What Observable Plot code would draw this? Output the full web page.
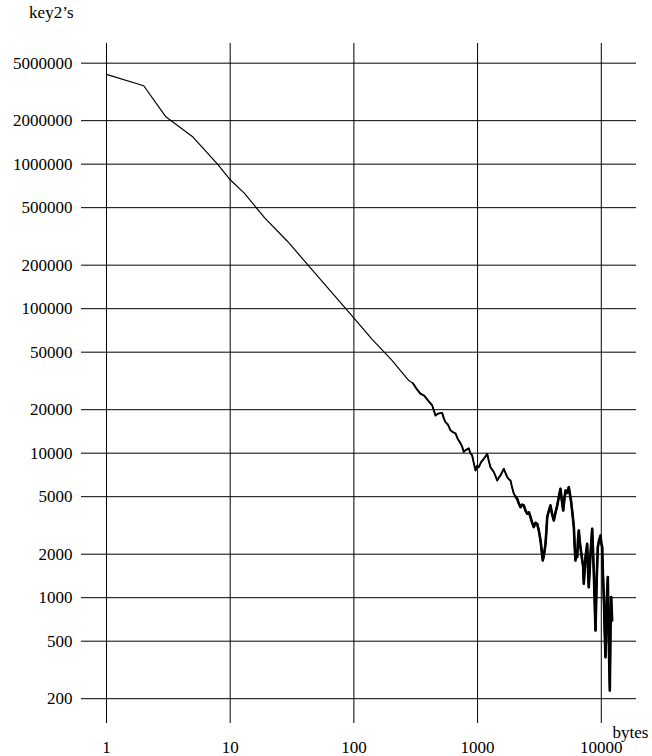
<!DOCTYPE html>
<html>
<head>
<meta charset="utf-8">
<script src="https://cdn.jsdelivr.net/npm/d3@7"></script>
<script src="https://cdn.jsdelivr.net/npm/@observablehq/plot@0.6"></script>
<style>
  html, body { margin: 0; padding: 0; background: white; }
</style>
</head>
<body>
<div id="chart"></div>
<script>
const xTicks = [1, 10, 100, 1000, 10000];
const yTicks = [200, 500, 1000, 2000, 5000, 10000, 20000, 50000, 100000, 200000, 500000, 1000000, 2000000, 5000000];
const yLabel = "key2’s";
const xLabel = "bytes";

const bytes = [1, 2, 3, 5, 8, 10, 13, 19, 29, 44, 99, 141, 200, 278, 300, 320, 345, 370, 400, 430, 445, 457, 480, 517, 535, 550, 575, 604, 630, 663, 690, 728, 750, 773, 800, 849, 875, 904, 930, 962, 990, 1023, 1070, 1122, 1160, 1196, 1230, 1271, 1310, 1352, 1400, 1440, 1490, 1531, 1580, 1629, 1680, 1735, 1790, 1845, 1900, 1963, 2030, 2090, 2150, 2222, 2290, 2364, 2440, 2518, 2600, 2679, 2760, 2845, 2940, 3034, 3130, 3228, 3300, 3365, 3450, 3540, 3600, 3655, 3770, 3883, 4000, 4130, 4270, 4405, 4540, 4677, 4800, 4920, 5030, 5140, 5300, 5460, 5580, 5710, 5850, 6000, 6090, 6180, 6290, 6390, 6480, 6580, 6680, 6790, 6960, 7140, 7180, 7220, 7450, 7690, 7800, 7920, 8180, 8440, 8700, 8980, 9170, 9370, 9600, 9860, 10000, 10170, 10300, 10480, 10650, 10810, 11050, 11290, 11500, 11720, 11870, 12020, 12240];
const counts = [4180000, 3490000, 2140000, 1540000, 990000, 780000, 630000, 425000, 293000, 194000, 87000, 61000, 44600, 31800, 30500, 28000, 25800, 25000, 23000, 21400, 19500, 18200, 18800, 19000, 17300, 16400, 15800, 14400, 14000, 13700, 12600, 11700, 11100, 10200, 10500, 10800, 10000, 9640, 8600, 7590, 8200, 8000, 8700, 9140, 9500, 9910, 8900, 8000, 7700, 7400, 6900, 6470, 6800, 7020, 7400, 7800, 7300, 6820, 6600, 6470, 5800, 5240, 5000, 4830, 4500, 4230, 4400, 4350, 4000, 3810, 3900, 3610, 3300, 3080, 3300, 3240, 2900, 2490, 2100, 1810, 2000, 2360, 2900, 3610, 4000, 4350, 3800, 3420, 3900, 4350, 5000, 5670, 4700, 4010, 4800, 5520, 5300, 5820, 5200, 4580, 3800, 3080, 2300, 1810, 2000, 1910, 2500, 2920, 2500, 2230, 1900, 1630, 1400, 1250, 1900, 2360, 1600, 1180, 2000, 3000, 1500, 593, 1300, 2230, 2500, 2690, 2400, 2230, 1500, 1010, 600, 387, 900, 1390, 500, 228, 600, 1010, 695];

const data = bytes.map((b, i) => ({bytes: b, count: counts[i]}));
const fmt = d => String(d);
const serif = '"Liberation Serif", "Times New Roman", Times, serif';

const chart = Plot.plot({
  width: 652,
  height: 756,
  marginLeft: 81,
  marginRight: 16,
  marginTop: 43,
  marginBottom: 33,
  style: {fontFamily: serif, fontSize: "17px", background: "white", color: "black"},
  x: {type: "log", domain: [0.628, 19260], axis: null},
  y: {type: "log", domain: [134.7, 6.84e6], axis: null},
  marks: [
    Plot.ruleX(xTicks, {stroke: "black", strokeWidth: 1}),
    Plot.ruleY(yTicks, {stroke: "black", strokeWidth: 1}),
    Plot.text(xTicks, {x: d => d, text: fmt, frameAnchor: "bottom", lineAnchor: "middle", dy: 24, fontSize: 17, fontFamily: serif, fill: "black"}),
    Plot.text(yTicks, {y: d => d, text: fmt, frameAnchor: "left", textAnchor: "end", lineAnchor: "middle", dx: -9, fontSize: 17, fontFamily: serif, fill: "black"}),
    Plot.line(data, {x: "bytes", y: "count", stroke: "black", strokeWidth: 1.2, strokeLinejoin: "round"}),
    Plot.line(data.filter(d => d.bytes >= 300), {x: "bytes", y: "count", stroke: "black", strokeWidth: 1.9, strokeLinejoin: "round"}),
    Plot.line(data.filter(d => d.bytes >= 2000), {x: "bytes", y: "count", stroke: "black", strokeWidth: 2.6, strokeLinejoin: "round"}),
    Plot.text([yLabel], {text: d => d, frameAnchor: "top-left", textAnchor: "end", dx: -8, dy: -31, lineAnchor: "middle", fontSize: 17, fontFamily: serif, fill: "black"}),
    Plot.text([xLabel], {text: d => d, frameAnchor: "bottom-right", textAnchor: "start", dx: -24, dy: 9, lineAnchor: "middle", fontSize: 17, fontFamily: serif, fill: "black"})
  ]
});
document.getElementById("chart").appendChild(chart);
</script>
</body>
</html>
